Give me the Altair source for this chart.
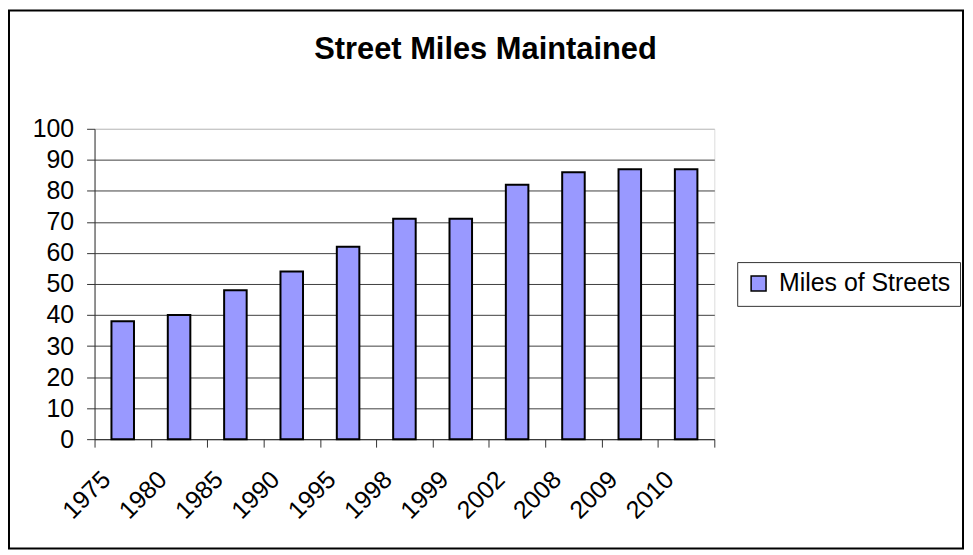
import altair as alt
import pandas as pd

years = ["1975", "1980", "1985", "1990", "1995", "1998", "1999", "2002", "2008", "2009", "2010"]
miles = [38, 40, 48, 54, 62, 71, 71, 82, 86, 87, 87]
series = "Miles of Streets"
title_text = "Street Miles Maintained"
y_ticks = [0, 10, 20, 30, 40, 50, 60, 70, 80, 90, 100]

df = pd.DataFrame({"year": years, "miles": miles, "series": [series] * len(years)})
title_df = pd.DataFrame({"t": [title_text]})

FONT = "Liberation Sans"
W, H = 623, 312
PAD_L, PAD_T = 87, 120
TOTAL_W, TOTAL_H = 962, 544

bars = alt.Chart(df).mark_bar(
    stroke="black", strokeWidth=2, width=alt.RelativeBandSize(0.4)
).encode(
    x=alt.X(
        "year:N",
        sort=years,
        scale=alt.Scale(paddingInner=0, paddingOuter=0),
        axis=alt.Axis(
            title=None,
            labelAngle=315,
            labelAlign="right",
            labelBaseline="middle",
            labelFontSize=25,
            labelFont=FONT,
            labelColor="black",
            labelOffset=-17,
            labelPadding=28,
            tickSize=8,
            tickBand="extent",
            tickColor="#333333",
            domainColor="#333333",
            grid=False,
        ),
    ),
    y=alt.Y(
        "miles:Q",
        scale=alt.Scale(domain=[0, 100], nice=False),
        axis=alt.Axis(
            title=None,
            values=y_ticks,
            labelFontSize=25,
            labelFont=FONT,
            labelColor="black",
            labelPadding=13,
            tickSize=8,
            tickColor="#333333",
            domainColor="#333333",
            grid=True,
            gridColor={"condition": {"test": "datum.value === 100", "value": "#C0C0C0"}, "value": "#404040"},
            gridWidth=1,
        ),
    ),
    color=alt.Color(
        "series:N",
        scale=alt.Scale(range=["#9999FF"]),
        legend=alt.Legend(
            title=None,
            orient="none",
            legendX=646,
            legendY=134,
            strokeColor="#333333",
            fillColor="white",
            padding=9,
            symbolType="square",
            symbolSize=225,
            symbolStrokeColor="black",
            symbolStrokeWidth=1.5,
            symbolOpacity=1,
            labelFontSize=25,
            labelFont=FONT,
            labelColor="black",
            labelOffset=8,
            labelLimit=400,
        ),
    ),
)

title_mark = alt.Chart(title_df).mark_text(
    font=FONT, fontSize=31, fontWeight="bold", color="black",
    align="center", baseline="alphabetic"
).encode(
    x=alt.value(488 - 95),
    y=alt.value(58 - 128),
    text="t:N",
)

frame = alt.Chart(pd.DataFrame({"a": [0]})).mark_rect(
    fill="transparent", stroke="black", strokeWidth=2
).encode(
    x=alt.value(-PAD_L + 1),
    x2=alt.value(TOTAL_W - PAD_L - 2),
    y=alt.value(-PAD_T + 1),
    y2=alt.value(TOTAL_H - PAD_T - 2),
)

chart = alt.layer(bars, title_mark, frame).properties(
    width=W,
    height=H,
    autosize="none",
    padding={"left": PAD_L, "top": PAD_T, "right": TOTAL_W - PAD_L - W, "bottom": TOTAL_H - PAD_T - H},
).configure_view(
    fill="#C0C0C0", stroke="#808080", strokeWidth=1
).configure(
    background="white", font=FONT
)

chart.save("out.html", embed_options={"renderer": "svg", "actions": False})
